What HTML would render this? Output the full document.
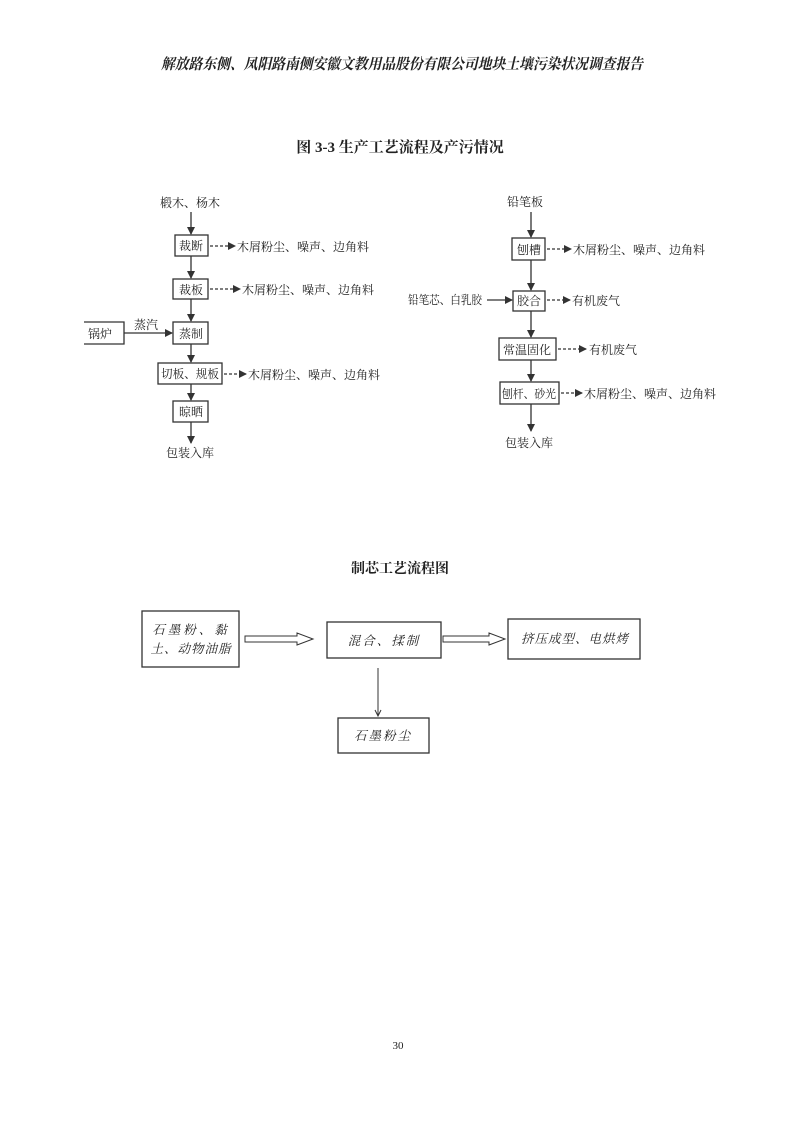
<!DOCTYPE html>
<html><head><meta charset="utf-8"><style>
html,body{margin:0;padding:0;background:#fff;}
svg{display:block;}
text{font-family:"Liberation Serif","Noto Serif CJK SC",serif;fill:#222;}
</style></head><body>
<svg width="793" height="1122" viewBox="0 0 793 1122" xmlns="http://www.w3.org/2000/svg">
<defs>
<marker id="a" markerWidth="8" markerHeight="8" refX="7" refY="4" orient="auto" markerUnits="userSpaceOnUse"><path d="M0,0 L8,4 L0,8 z" fill="#333"/></marker>
</defs>
<text x="402" y="69" font-size="15" font-style="italic" font-weight="bold" text-anchor="middle" textLength="482" lengthAdjust="spacingAndGlyphs">解放路东侧、凤阳路南侧安徽文教用品股份有限公司地块土壤污染状况调查报告</text>
<text x="400" y="152" font-size="15" font-weight="bold" text-anchor="middle">图 3-3  生产工艺流程及产污情况</text>

<g stroke="#333" stroke-width="1.3" fill="none">
<line x1="191" y1="212" x2="191" y2="234" marker-end="url(#a)"/>
<rect x="175" y="235" width="33" height="21"/>
<line x1="191" y1="256" x2="191" y2="278" marker-end="url(#a)"/>
<rect x="173" y="279" width="35" height="20"/>
<line x1="191" y1="299" x2="191" y2="321" marker-end="url(#a)"/>
<rect x="173" y="322" width="35" height="22"/>
<line x1="191" y1="344" x2="191" y2="362" marker-end="url(#a)"/>
<rect x="158" y="363" width="64" height="21"/>
<line x1="191" y1="384" x2="191" y2="400" marker-end="url(#a)"/>
<rect x="173" y="401" width="35" height="21"/>
<line x1="191" y1="422" x2="191" y2="443" marker-end="url(#a)"/>
<polyline points="84,322 124,322 124,344 84,344"/>
<line x1="124" y1="333" x2="172" y2="333" marker-end="url(#a)"/>
<g stroke-dasharray="3,2">
<line x1="210" y1="246" x2="235" y2="246" marker-end="url(#a)"/>
<line x1="210" y1="289" x2="240" y2="289" marker-end="url(#a)"/>
<line x1="224" y1="374" x2="246" y2="374" marker-end="url(#a)"/>
<line x1="547" y1="249" x2="571" y2="249" marker-end="url(#a)"/>
<line x1="547" y1="300" x2="570" y2="300" marker-end="url(#a)"/>
<line x1="558" y1="349" x2="586" y2="349" marker-end="url(#a)"/>
<line x1="561" y1="393" x2="582" y2="393" marker-end="url(#a)"/>
</g>
<line x1="531" y1="212" x2="531" y2="237" marker-end="url(#a)"/>
<rect x="512" y="238" width="33" height="22"/>
<line x1="531" y1="260" x2="531" y2="290" marker-end="url(#a)"/>
<rect x="513" y="291" width="32" height="20"/>
<line x1="487" y1="300" x2="512" y2="300" marker-end="url(#a)"/>
<line x1="531" y1="311" x2="531" y2="337" marker-end="url(#a)"/>
<rect x="499" y="338" width="57" height="22"/>
<line x1="531" y1="360" x2="531" y2="381" marker-end="url(#a)"/>
<rect x="500" y="382" width="59" height="22"/>
<line x1="531" y1="404" x2="531" y2="431" marker-end="url(#a)"/>
</g>
<g font-size="12">
<text x="190" y="207" text-anchor="middle">椴木、杨木</text>
<text x="191" y="250" text-anchor="middle">裁断</text>
<text x="237" y="251">木屑粉尘、噪声、边角料</text>
<text x="191" y="294" text-anchor="middle">裁板</text>
<text x="242" y="294">木屑粉尘、噪声、边角料</text>
<text x="191" y="338" text-anchor="middle">蒸制</text>
<text x="88" y="338">锅炉</text>
<text x="134" y="329">蒸汽</text>
<text x="190" y="378" text-anchor="middle" textLength="58" lengthAdjust="spacingAndGlyphs">切板、规板</text>
<text x="248" y="379">木屑粉尘、噪声、边角料</text>
<text x="191" y="416" text-anchor="middle">晾晒</text>
<text x="190" y="457" text-anchor="middle">包装入库</text>

<text x="525" y="206" text-anchor="middle">铅笔板</text>
<text x="529" y="254" text-anchor="middle">刨槽</text>
<text x="573" y="254">木屑粉尘、噪声、边角料</text>
<text x="529" y="305" text-anchor="middle">胶合</text>
<text x="408" y="304" textLength="74" lengthAdjust="spacingAndGlyphs">铅笔芯、白乳胶</text>
<text x="572" y="305">有机废气</text>
<text x="527" y="354" text-anchor="middle">常温固化</text>
<text x="589" y="354">有机废气</text>
<text x="529" y="398" text-anchor="middle" textLength="54" lengthAdjust="spacingAndGlyphs">刨杆、砂光</text>
<text x="584" y="398">木屑粉尘、噪声、边角料</text>
<text x="529" y="447" text-anchor="middle">包装入库</text>
</g>

<text x="400" y="573" font-size="14" font-weight="bold" text-anchor="middle">制芯工艺流程图</text>
<g stroke="#333" stroke-width="1.3" fill="none">
<rect x="142" y="611" width="97" height="56"/>
<rect x="327" y="622" width="114" height="36"/>
<rect x="508" y="619" width="132" height="40"/>
<rect x="338" y="718" width="91" height="35"/>
<path d="M245,636 L297,636 L297,633 L313,639 L297,645 L297,642 L245,642 Z" stroke-width="1"/>
<path d="M443,636 L489,636 L489,633 L505,639 L489,645 L489,642 L443,642 Z" stroke-width="1"/>
<line x1="378" y1="668" x2="378" y2="716" stroke-width="1"/>
<path d="M375,710 L378,716 L381,710" stroke-width="1"/>
</g>
<g font-size="12.5" font-style="italic">
<text x="191" y="634" text-anchor="middle" letter-spacing="3">石墨粉、黏</text>
<text x="191" y="653" text-anchor="middle" letter-spacing="1">土、动物油脂</text>
<text x="384" y="645" text-anchor="middle" letter-spacing="2">混合、揉制</text>
<text x="575" y="643" text-anchor="middle" letter-spacing="1">挤压成型、电烘烤</text>
<text x="383" y="740" text-anchor="middle" letter-spacing="2">石墨粉尘</text>
</g>
<text x="398" y="1049" font-size="11" text-anchor="middle">30</text>
</svg>
</body></html>
